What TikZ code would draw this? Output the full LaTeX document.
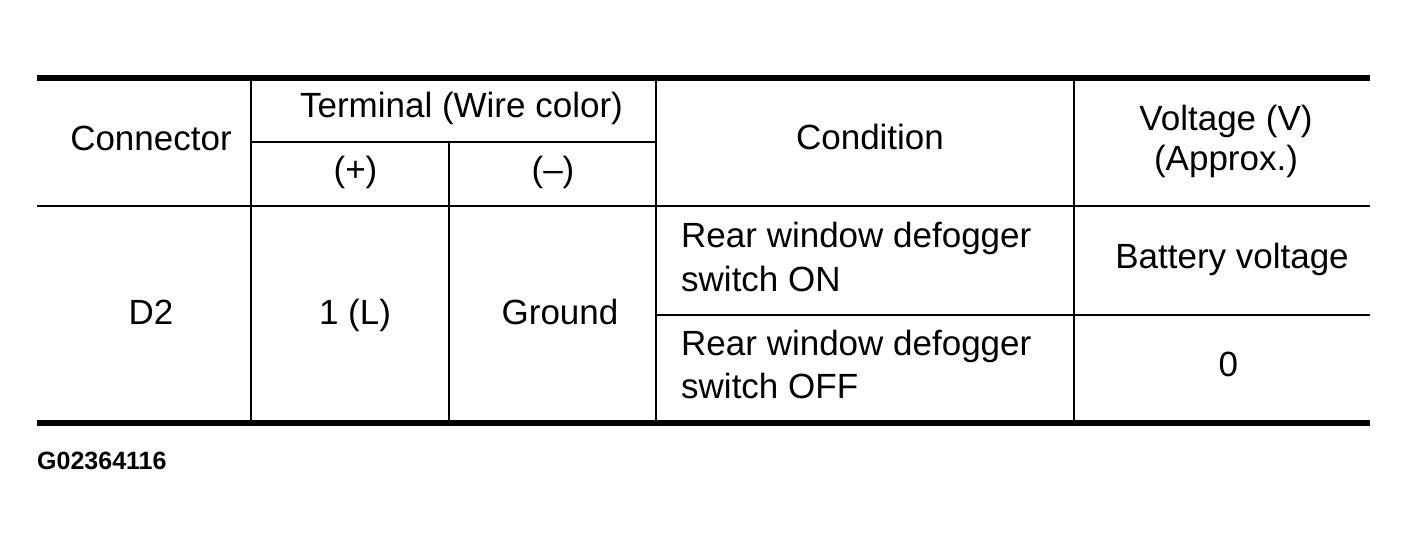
\documentclass[tikz,border=0pt]{standalone}
\usepackage{fontspec}
\setmainfont{Liberation Sans}
\begin{document}
\begin{tikzpicture}[x=1pt,y=-1pt,
  thickrule/.style={line width=5.5pt},
  thinrule/.style={line width=2pt},
  cell/.style={inner sep=0pt,anchor=base,font=\fontsize{35}{42}\selectfont},
  lcell/.style={inner sep=0pt,anchor=base west,font=\fontsize{35}{42}\selectfont},
  figid/.style={inner sep=0pt,anchor=base west,font=\fontsize{25}{30}\selectfont\bfseries}]
\useasboundingbox (0,0) rectangle (1407,545);
% grid
\draw[thinrule] (250.5,78) -- (250.5,423);
\draw[thinrule] (449,142) -- (449,423);
\draw[thinrule] (656,78) -- (656,423);
\draw[thinrule] (1073.5,78) -- (1073.5,423);
\draw[thinrule] (250.5,142) -- (656,142);
\draw[thinrule] (37,206.5) -- (1369.5,206.5);
\draw[thinrule] (656,315) -- (1369.5,315);
\draw[thickrule] (37,78) -- (1369.5,78);
\draw[thickrule] (37,423) -- (1369.5,423);
% header
\node[cell] (hconn) at (151,150.7) {Connector};
\node[cell] (hterm) at (461.5,118) {Terminal (Wire color)};
\node[cell] (hplus) at (355.5,181.5) {(+)};
\node[cell] (hminus) at (553,181.5) {(–)};
\node[cell] (hcond) at (870,149.3) {Condition};
\node[cell] (hvolt1) at (1226,130.5) {Voltage (V)};
\node[cell] (hvolt2) at (1226,171) {(Approx.)};
% body
\node[cell] (bconn) at (151,324.5) {D2};
\node[cell] (bplus) at (355,324.5) {1 (L)};
\node[cell] (bminus) at (560,324.5) {Ground};
\node[lcell] (c1a) at (681,247.5) {Rear window defogger};
\node[lcell] (c1b) at (681,291) {switch ON};
\node[lcell] (c2a) at (681,355) {Rear window defogger};
\node[lcell] (c2b) at (681,398) {switch OFF};
\node[cell] (v1) at (1232,269) {Battery voltage};
\node[cell] (v2) at (1228.3,376.5) {0};
% figure id
\node[figid] (fid) at (37,469.5) {G02364116};
\end{tikzpicture}
\end{document}
